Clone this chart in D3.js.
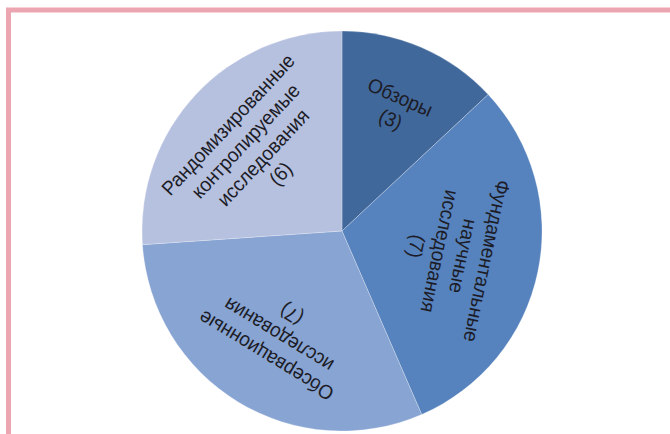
<!DOCTYPE html>
<html>
<head>
<meta charset="utf-8">
<script src="https://cdn.jsdelivr.net/npm/d3@7"></script>
<style>
  body { margin: 0; background: #fff; }
  text { font-family: "Liberation Sans", Arial, sans-serif; }
</style>
</head>
<body>
<div id="chart"></div>
<script>
const categories = [
    ["Обзоры", "(3)"],
    ["Фундаментальные", "научные", "исследования", "(7)"],
    ["Обсервационные", "исследования", "(7)"],
    ["Рандомизированные", "контролируемые", "исследования", "(6)"]
];
const values = [3, 7, 7, 6];
const colors = ["#41689b", "#5682bd", "#87a4d3", "#b6c0df"];

function init() {
    let w = 670;
    let h = 434;
    const cx = 342, cy = 231, radius = 200;

    let svg = d3.select("#chart")
        .append("svg")
        .attr("width", w)
        .attr("height", h);

    // pink frame (top + left)
    svg.append("path")
        .attr("d", `M8.5,${h} L8.5,10 L${w},10`)
        .attr("fill", "none")
        .attr("stroke", "#eba6b1")
        .attr("stroke-width", 5);

    let pie = d3.pie().sort(null).value(d => d);
    let arcs = pie(values);

    let arc = d3.arc().innerRadius(0).outerRadius(radius);
    // distance of each label block from the centre
    const labelR = [134, 112, 122, 120];

    let g = svg.append("g")
        .attr("transform", `translate(${cx},${cy})`);

    g.selectAll("path.slice")
        .data(arcs)
        .enter()
        .append("path")
        .attr("class", "slice")
        .attr("d", arc)
        .attr("fill", (d, i) => colors[i])
        .attr("stroke", "rgba(255,255,255,0.25)")
        .attr("stroke-width", 1);

    let labels = g.selectAll("g.label")
        .data(arcs)
        .enter()
        .append("g")
        .attr("class", "label")
        .attr("transform", function (d, i) {
            const mid = (d.startAngle + d.endAngle) / 2;
            const x = Math.sin(mid) * labelR[i];
            const y = -Math.cos(mid) * labelR[i];
            return `translate(${x},${y}) rotate(${mid * 180 / Math.PI}) scale(0.95,1)`;
        });

    const lineH = 24;
    labels.each(function (d, i) {
        const lines = categories[i];
        const t = d3.select(this).append("text")
            .attr("text-anchor", "middle")
            .attr("font-size", 20)
            .attr("fill", "#1c1c26");
        lines.forEach(function (s, k) {
            t.append("tspan")
                .attr("x", 0)
                .attr("y", (k - (lines.length - 1) / 2) * lineH + 7)
                .text(s);
        });
    });
}

window.addEventListener('load', init);
</script>
</body>
</html>
